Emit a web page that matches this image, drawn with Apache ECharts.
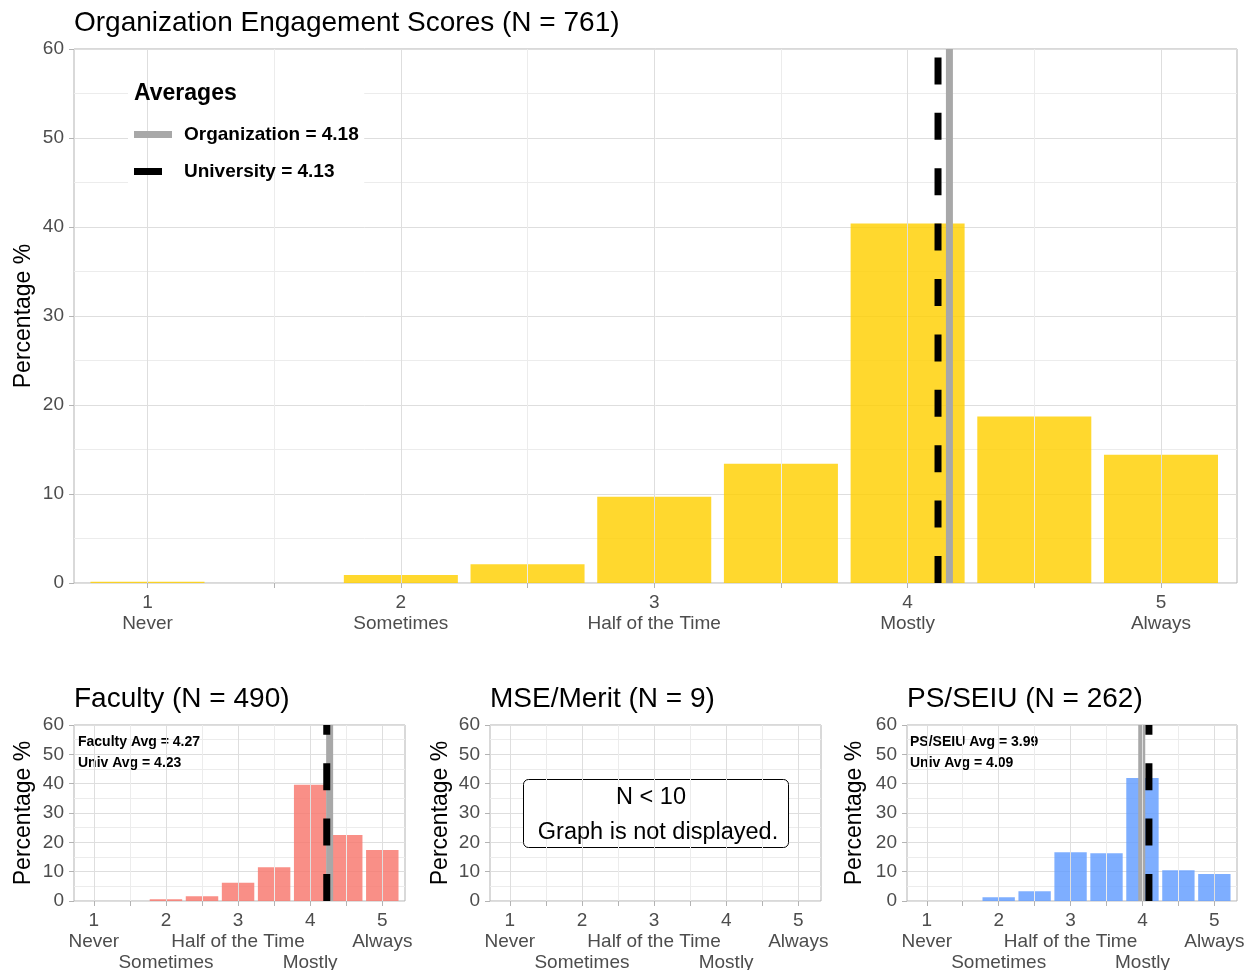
<!DOCTYPE html>
<html>
<head>
<meta charset="utf-8">
<script src="https://cdn.jsdelivr.net/npm/echarts@6/dist/echarts.min.js"></script>
<style>
  html, body { margin: 0; padding: 0; background: #fff; }
  #chart { width: 1260px; height: 970px; }
</style>
</head>
<body>
<div id="chart"></div>
<script>
// ---------------- data ----------------
const mainTitleText = 'Organization Engagement Scores';
const orgN = 761;
const binPositions = [1, 1.5, 2, 2.5, 3, 3.5, 4, 4.5, 5];
const tickValues = [1, 2, 3, 4, 5];
const tickNames = ['Never', 'Sometimes', 'Half of the Time', 'Mostly', 'Always'];
const yTickMax = 60;
const yTickStep = 10;

const orgValues = [0.15, 0, 0.9, 2.1, 9.7, 13.4, 40.4, 18.7, 14.4];
const orgAvgLabel = 4.18;      // value printed in the legend
const univAvgLabel = 4.13;
const orgAvgLine = 4.165;      // where the lines sit in the picture
const univAvgLine = 4.12;

const groupNames = ['Faculty', 'MSE/Merit', 'PS/SEIU'];
const groupN = [490, 9, 262];
const facultyValues = [0, 0, 0.6, 1.6, 6.2, 11.5, 39.6, 22.5, 17.4];
const mseValues = [];            // N < 10 : not displayed
const psValues = [0, 0, 1.3, 3.3, 16.6, 16.3, 41.9, 10.5, 9.2];
const groupAvg = [4.27, null, 3.99];
const groupUnivAvg = [4.23, null, 4.09];
const minN = 10;

// ---------------- styling ----------------
const FONT = "'Liberation Sans', Arial, Helvetica, sans-serif";
const BAR_WIDTH = 0.45;  // in x units
const colors = {
  org: 'rgba(255, 208, 0, 0.82)',
  faculty: 'rgba(248, 118, 109, 0.82)',
  ps: 'rgba(97, 156, 255, 0.82)',
  avg: '#a8a8a8',
  univ: '#000000',
  major: '#dedede',
  minor: '#ececec',
  border: '#b3b3b3',
  tick: '#4d4d4d'
};
const DASH = [27, 28.4];
const LINE_H = 21;

const grids = [
  { left: 74, top: 49, width: 1163, height: 534 },
  { left: 74, top: 725, width: 331, height: 176 },
  { left: 490, top: 725, width: 331, height: 176 },
  { left: 907, top: 725, width: 330, height: 176 }
];
const xRanges = [[0.71, 5.30], [0.725, 5.315], [0.725, 5.315], [0.725, 5.315]];
const yNameGaps = [38.5, 38.5, 37.5, 40.5];

const labelBase = { fontSize: 19, lineHeight: LINE_H, color: '#4d4d4d', fontFamily: FONT,
  showMinLabel: true, showMaxLabel: true, hideOverlap: false };

// build x axes: main grid has one axis; small grids have three stacked label rows
const xAxes = [];
const primaryX = [];
grids.forEach((g, i) => {
  const common = { type: 'value', gridIndex: i, min: xRanges[i][0], max: xRanges[i][1], position: 'bottom', offset: 0,
    axisLine: { show: false }, splitLine: { show: false } };
  primaryX.push(xAxes.length);
  if (i === 0) {
    xAxes.push(Object.assign({}, common, {
      axisTick: { show: true, customValues: binPositions, length: 5, lineStyle: { color: colors.border, width: 1 } },
      axisLabel: Object.assign({}, labelBase, {
        customValues: tickValues, margin: 9,
        formatter: v => v + '\n' + tickNames[tickValues.indexOf(v)]
      })
    }));
  } else {
    xAxes.push(Object.assign({}, common, {
      axisTick: { show: true, customValues: binPositions, length: 5, lineStyle: { color: colors.border, width: 1 } },
      axisLabel: Object.assign({}, labelBase, { customValues: tickValues, margin: 9, formatter: v => String(v) })
    }));
    [0, 1].forEach(row => {
      const vals = tickValues.filter((v, k) => k % 2 === row);
      xAxes.push(Object.assign({}, common, {
        axisTick: { show: false },
        axisLabel: Object.assign({}, labelBase, {
          customValues: vals, margin: 9 + LINE_H * (row + 1),
          formatter: v => tickNames[tickValues.indexOf(v)]
        })
      }));
    });
  }
});

const yAxes = grids.map((g, i) => ({
  type: 'value', gridIndex: i, min: 0, max: yTickMax, interval: yTickStep,
  axisLine: { show: false },
  axisTick: { show: true, length: 5, lineStyle: { color: colors.border, width: 1 } },
  axisLabel: { fontSize: 19, color: colors.tick, fontFamily: FONT, margin: 10 },
  splitLine: { show: true, lineStyle: { color: colors.major, width: 1 } },
  minorTick: { show: false, splitNumber: 2 },
  minorSplitLine: { show: true, lineStyle: { color: colors.minor, width: 1 } },
  name: 'Percentage %', nameLocation: 'middle', nameGap: yNameGaps[i], nameMoveOverlap: false,
  nameTextStyle: { fontSize: 23, color: '#000', fontFamily: FONT }
}));

function gridLineSeries(i) {
  return {
    type: 'line', xAxisIndex: primaryX[i], yAxisIndex: i, data: [], z: 1, silent: true,
    markLine: {
      silent: true, symbol: ['none', 'none'], animation: false,
      label: { show: false },
      data: binPositions.map(v => ({
        xAxis: v,
        lineStyle: { color: tickValues.includes(v) ? colors.major : colors.minor, width: 1, type: 'solid' }
      }))
    }
  };
}

function barSeries(i, values, color) {
  return {
    type: 'custom', xAxisIndex: primaryX[i], yAxisIndex: i, z: 2, silent: true, clip: true,
    data: binPositions.map((x, k) => [x, values[k]]).filter(d => d[1] !== undefined),
    renderItem: function (params, api) {
      const x = api.value(0), y = api.value(1);
      const p0 = api.coord([x - BAR_WIDTH / 2, y]);
      const p1 = api.coord([x + BAR_WIDTH / 2, 0]);
      return {
        type: 'rect',
        shape: { x: p0[0], y: p0[1], width: p1[0] - p0[0], height: p1[1] - p0[1] },
        style: { fill: color }
      };
    }
  };
}

function avgLine(i, name, value, color, dashed, z) {
  return {
    type: 'line', name: name, xAxisIndex: primaryX[i], yAxisIndex: i, z: z, silent: true,
    symbol: 'none', showSymbol: false, animation: false,
    data: [[value, 0], [value, yTickMax]],
    itemStyle: { color: color },
    lineStyle: { color: color, width: 7, type: dashed ? DASH : 'solid', cap: 'butt' }
  };
}

const orgName = 'Organization = ' + orgAvgLabel.toFixed(2);
const univName = 'University = ' + univAvgLabel.toFixed(2);

const series = [
  gridLineSeries(0), gridLineSeries(1), gridLineSeries(2), gridLineSeries(3),
  barSeries(0, orgValues, colors.org),
  barSeries(1, facultyValues, colors.faculty),
  barSeries(3, psValues, colors.ps),
  avgLine(0, orgName, orgAvgLine, colors.avg, false, 3),
  avgLine(0, univName, univAvgLine, colors.univ, true, 4),
  avgLine(1, 'Faculty Avg', groupAvg[0], colors.avg, false, 3),
  avgLine(1, 'Faculty Univ Avg', groupUnivAvg[0], colors.univ, true, 4),
  avgLine(3, 'PS/SEIU Avg', groupAvg[2], colors.avg, false, 3),
  avgLine(3, 'PS/SEIU Univ Avg', groupUnivAvg[2], colors.univ, true, 4)
];

const titleStyle = { fontSize: 28, fontWeight: 'normal', color: '#000', fontFamily: FONT };
const titles = [
  { text: mainTitleText + ' (N = ' + orgN + ')', left: 74, top: 9, padding: 0, textStyle: titleStyle },
  { text: 'Averages', left: 134, top: 82, padding: 0, z: 6,
    textStyle: { fontSize: 23, fontWeight: 'bold', color: '#000', fontFamily: FONT } }
].concat(groupNames.map((g, i) => ({
  text: g + ' (N = ' + groupN[i] + ')', left: grids[i + 1].left, top: 685, padding: 0, textStyle: titleStyle
})));

function legendDef(name, width, top, pad) {
  return {
    data: [{ name: name, icon: 'rect' }], left: 134, top: top, padding: 0, z: 6,
    itemWidth: width, itemHeight: 7, selectedMode: false,
    formatter: n => '{t|' + n + '}',
    textStyle: {
      rich: { t: { fontSize: 19, fontWeight: 'bold', color: '#000', fontFamily: FONT, padding: [0, 0, 0, pad] } }
    }
  };
}

const annoStyle = { fill: '#000', font: 'bold 14px ' + FONT };
const graphics = [
  { type: 'rect', left: 128, top: 80, z: 5, shape: { width: 236, height: 110 }, style: { fill: '#fff' } },
  { type: 'text', left: 78, top: 735, z: 5, style: Object.assign({ text: groupNames[0] + ' Avg = ' + groupAvg[0].toFixed(2) }, annoStyle) },
  { type: 'text', left: 78, top: 756, z: 5, style: Object.assign({ text: 'Univ Avg = ' + groupUnivAvg[0].toFixed(2) }, annoStyle) },
  { type: 'text', left: 910, top: 735, z: 5, style: Object.assign({ text: groupNames[2] + ' Avg = ' + groupAvg[2].toFixed(2) }, annoStyle) },
  { type: 'text', left: 910, top: 756, z: 5, style: Object.assign({ text: 'Univ Avg = ' + groupUnivAvg[2].toFixed(2) }, annoStyle) },
  { type: 'rect', left: 523, top: 779, z: 5, shape: { width: 265, height: 68, r: 5 },
    style: { fill: '#fff', stroke: '#000', lineWidth: 1 } },
  { type: 'text', x: 651, y: 798, z: 6,
    style: { text: 'N < ' + minN, font: '23.5px ' + FONT, fill: '#000', align: 'center', verticalAlign: 'middle' } },
  { type: 'text', x: 658, y: 833, z: 6,
    style: { text: 'Graph is not displayed.', font: '23.5px ' + FONT, fill: '#000', align: 'center', verticalAlign: 'middle' } }
];

const chart = echarts.init(document.getElementById('chart'), null, { renderer: 'canvas' });
chart.setOption({
  animation: false,
  backgroundColor: '#fff',
  textStyle: { fontFamily: FONT },
  title: titles,
  legend: [legendDef(orgName, 38, 125, 7), legendDef(univName, 28, 162, 17)],
  grid: grids.map(g => Object.assign({ show: true, borderColor: colors.border, borderWidth: 1, backgroundColor: '#fff',
    containLabel: false, outerBoundsMode: 'none' }, g)),
  xAxis: xAxes,
  yAxis: yAxes,
  series: series,
  graphic: graphics
});
</script>
</body>
</html>
